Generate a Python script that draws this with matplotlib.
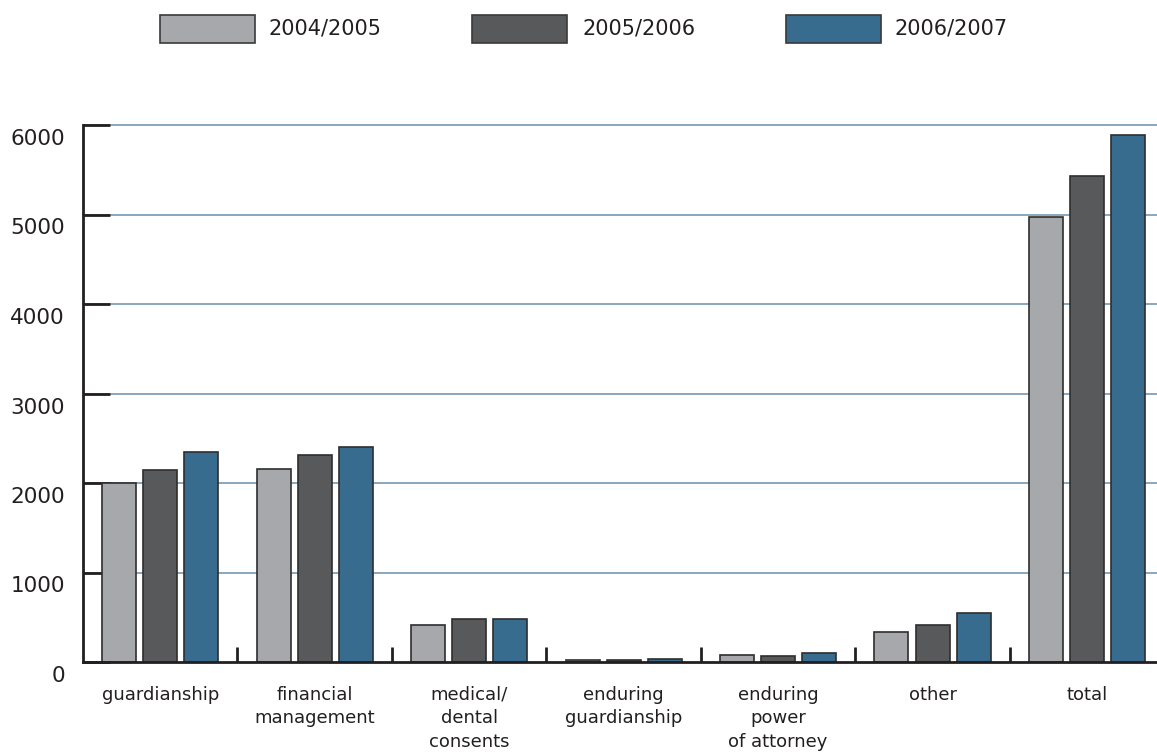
import numpy as np
import matplotlib.pyplot as plt
import matplotlib.transforms as mtransforms
from matplotlib.patches import Rectangle

categories = ["guardianship", "financial\nmanagement", "medical/\ndental\nconsents",
              "enduring\nguardianship", "enduring\npower\nof attorney", "other", "total"]
series_names = ["2004/2005", "2005/2006", "2006/2007"]
v_2004 = [1995, 2155, 413, 19, 75, 335, 4970]
v_2005 = [2142, 2316, 480, 26, 64, 413, 5430]
v_2006 = [2350, 2406, 477, 34, 97, 547, 5892]
yticks = [0, 1000, 2000, 3000, 4000, 5000, 6000]

colors = ["#a7a8ab", "#58595b", "#386c8e"]
W, H = 1157, 755

fig = plt.figure(figsize=(W / 100, H / 100), dpi=100)
ax = fig.add_axes([83 / W, 1 - 662 / H, 1 - 83 / W, (662 - 125) / H])

x = np.arange(len(categories))
bw = 0.22
step = 0.266
for i, vals in enumerate([v_2004, v_2005, v_2006]):
    ax.bar(x + (i - 1) * step, vals, width=bw, color=colors[i],
           edgecolor="#2e2e2e", linewidth=1.2, zorder=3)

ax.set_xlim(-0.5, 6.453)
ax.set_ylim(0, 6000)

# gridlines
for yv in yticks[1:]:
    ax.axhline(yv, color="#6a8fae", linewidth=1.1, zorder=1, clip_on=False)

ax.spines["top"].set_visible(False)
ax.spines["right"].set_visible(False)
for s in ["left", "bottom"]:
    ax.spines[s].set_linewidth(2)
    ax.spines[s].set_color("#231f20")
    ax.spines[s].set_zorder(4)

ax.set_yticks(yticks)
ax.set_yticklabels([str(v) for v in yticks], fontsize=15.5, color="#231f20")
ax.tick_params(axis="y", direction="in", length=19.5, width=2, color="#231f20", pad=13)
offset = mtransforms.ScaledTranslation(0, -12 / 100, fig.dpi_scale_trans)
for lab in ax.get_yticklabels():
    lab.set_transform(lab.get_transform() + offset)

ax.set_xticks(x)
ax.set_xticklabels(categories, fontsize=13, color="#231f20", linespacing=1.4)
ax.set_xticks(x[:-1] + 0.5, minor=True)
ax.tick_params(axis="x", which="major", length=0, pad=17)
ax.tick_params(axis="x", which="minor", direction="in", length=11, width=2, color="#231f20")

# legend
patch_x = [160, 472, 786]
text_x = [269, 583, 894]
for i, name in enumerate(series_names):
    fig.add_artist(Rectangle((patch_x[i] / W, 1 - 43 / H), 95 / W, 28 / H,
                             transform=fig.transFigure, facecolor=colors[i],
                             edgecolor="#3a3a3a", linewidth=1.2))
    fig.text(text_x[i] / W, 1 - 29 / H, name, fontsize=15, va="center", ha="left",
             color="#231f20")

fig.savefig("out.png", dpi=100)
